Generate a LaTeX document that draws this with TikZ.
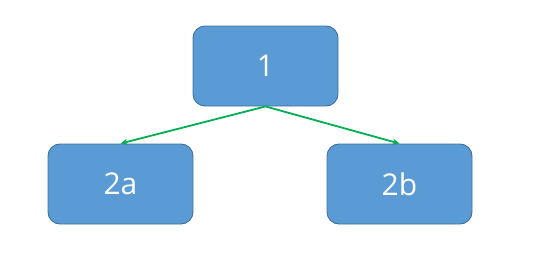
\documentclass[tikz,border=0pt]{standalone}
\usepackage{fontspec}
\setmainfont{Open Sans}
\usetikzlibrary{arrows.meta}
\definecolor{boxfill}{HTML}{5B9BD5}
\definecolor{boxline}{HTML}{41719C}
\definecolor{arrowgreen}{HTML}{00B050}
\tikzset{
  box/.style={draw=boxline, line width=0.9pt, fill=boxfill, rounded corners=12pt,
    minimum width=145pt, minimum height=80pt, inner sep=0pt,
    text=white, font=\fontsize{30}{36}\selectfont},
  link/.style={draw=arrowgreen, line width=1.8pt, -{Stealth[length=7pt,width=6pt]}}
}
\begin{document}
\begin{tikzpicture}[x=1pt,y=-1pt]
\useasboundingbox (0,0) rectangle (549,265);
\node[box] (n1) at (265.5,66) {1};
\node[box] (n2a) at (120.5,184) {2a};
\node[box] (n2b) at (399.5,184) {2b};
\draw[link] (n1.south) -- (n2a.north);
\draw[link] (n1.south) -- (n2b.north);
\end{tikzpicture}
\end{document}
